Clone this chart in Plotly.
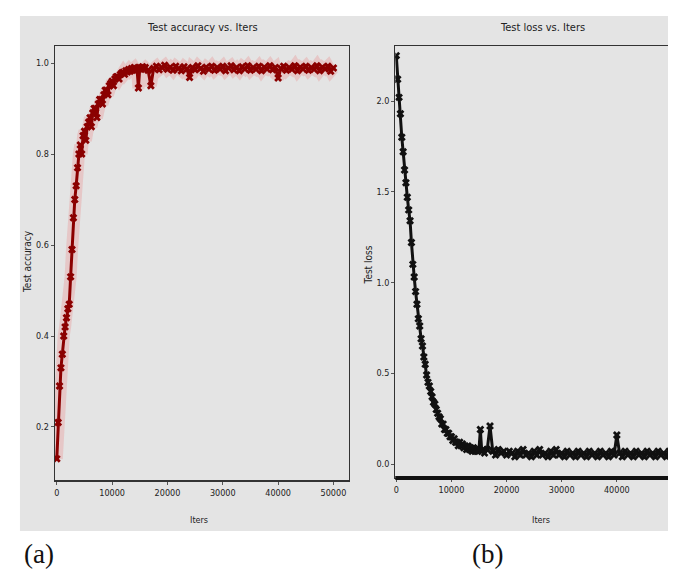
import plotly.graph_objects as go

W, H = 676, 571

# ---- data ----
ITERS_EARLY = list(range(0, 16000, 250))      # 64 points
ITERS_LATE = list(range(16000, 50001, 500))   # 69 points
ITERS = ITERS_EARLY + ITERS_LATE

ACC_EARLY = [
    0.13, 0.21, 0.29, 0.33, 0.36, 0.40, 0.42, 0.44,
    0.46, 0.47, 0.53, 0.59, 0.66, 0.70, 0.73, 0.77,
    0.80, 0.82, 0.80, 0.84, 0.85, 0.83, 0.86, 0.87,
    0.88, 0.86, 0.89, 0.90, 0.90, 0.88, 0.91, 0.92,
    0.92, 0.91, 0.93, 0.94, 0.94, 0.93, 0.95, 0.955,
    0.96, 0.95, 0.965, 0.97, 0.97, 0.965, 0.975, 0.978,
    0.98, 0.975, 0.983, 0.98, 0.986, 0.982, 0.988, 0.984,
    0.99, 0.985, 0.988, 0.945, 0.99, 0.986, 0.992, 0.987,
]
ACC_LATE = [
    0.99, 0.984, 0.95, 0.988, 0.993, 0.985, 0.99, 0.995, 0.986, 0.991,
    0.984, 0.993, 0.988, 0.983, 0.992, 0.987, 0.968, 0.99, 0.985, 0.994,
    0.988, 0.982, 0.991, 0.986, 0.993, 0.984, 0.99, 0.987, 0.993, 0.983,
    0.989, 0.994, 0.985, 0.99, 0.983, 0.992, 0.987, 0.994, 0.984, 0.99,
    0.986, 0.993, 0.983, 0.991, 0.987, 0.994, 0.985, 0.99, 0.967, 0.988,
    0.993, 0.984, 0.99, 0.986, 0.994, 0.983, 0.991, 0.987, 0.993, 0.984,
    0.99, 0.986, 0.994, 0.983, 0.991, 0.987, 0.993, 0.982, 0.989,
]
ACCURACY = ACC_EARLY + ACC_LATE

LOSS_EARLY = [
    2.25, 2.12, 2.02, 1.93, 1.80, 1.72, 1.62, 1.55,
    1.47, 1.40, 1.34, 1.22, 1.10, 1.03, 0.95, 0.88,
    0.80, 0.76, 0.69, 0.65, 0.59, 0.55, 0.49, 0.45,
    0.43, 0.40, 0.37, 0.34, 0.33, 0.30, 0.28, 0.26,
    0.25, 0.22, 0.22, 0.19, 0.19, 0.17, 0.17, 0.15,
    0.15, 0.13, 0.14, 0.12, 0.12, 0.10, 0.12, 0.10,
    0.11, 0.09, 0.10, 0.08, 0.10, 0.08, 0.09, 0.07,
    0.09, 0.07, 0.08, 0.07, 0.08, 0.19, 0.07, 0.08,
]
LOSS_LATE = [
    0.06, 0.08, 0.21, 0.07, 0.05, 0.08, 0.06, 0.07, 0.05, 0.07,
    0.06, 0.04, 0.07, 0.05, 0.08, 0.05, 0.06, 0.04, 0.07, 0.05,
    0.08, 0.05, 0.06, 0.04, 0.07, 0.05, 0.08, 0.05, 0.06, 0.04,
    0.07, 0.05, 0.06, 0.04, 0.07, 0.05, 0.06, 0.04, 0.07, 0.05,
    0.06, 0.04, 0.07, 0.05, 0.06, 0.04, 0.07, 0.05, 0.16, 0.06,
    0.04, 0.07, 0.05, 0.06, 0.04, 0.07, 0.05, 0.06, 0.04, 0.07,
    0.05, 0.06, 0.04, 0.07, 0.05, 0.06, 0.04, 0.07, 0.05,
]
LOSS = LOSS_EARLY + LOSS_LATE

X_TICKS = [0, 10000, 20000, 30000, 40000, 50000]
X_TICK_TEXT = ["0", "10000", "20000", "30000", "40000", "50000"]
ACC_TICKS = [0.2, 0.4, 0.6, 0.8, 1.0]
ACC_TICK_TEXT = ["0.2", "0.4", "0.6", "0.8", "1.0"]
LOSS_TICKS = [0.0, 0.5, 1.0, 1.5, 2.0]
LOSS_TICK_TEXT = ["0.0", "0.5", "1.0", "1.5", "2.0"]

n = min(len(ITERS), len(ACCURACY), len(LOSS))

def px(x):
    return x / W

def py(y):
    return 1 - y / H

FONT = "Liberation Sans Narrow, DejaVu Sans Condensed, Arial Narrow, sans-serif"
GRAY = "#e4e4e4"

fig = go.Figure()

# accuracy halo + line
fig.add_trace(go.Scatter(x=ITERS[:n], y=ACCURACY[:n], mode="lines",
                         line=dict(color="rgba(235,110,110,0.25)", width=12),
                         xaxis="x", yaxis="y", hoverinfo="skip", showlegend=False))
fig.add_trace(go.Scatter(x=ITERS[:n], y=ACCURACY[:n], mode="lines+markers",
                         line=dict(color="#8b0000", width=3),
                         marker=dict(symbol="x", size=7, color="#8b0000"),
                         xaxis="x", yaxis="y", showlegend=False))
# loss line
fig.add_trace(go.Scatter(x=ITERS[:n], y=LOSS[:n], mode="lines+markers",
                         line=dict(color="#111111", width=3),
                         marker=dict(symbol="x", size=7, color="#111111"),
                         xaxis="x2", yaxis="y2", showlegend=False))

axis_common = dict(showgrid=False, zeroline=False, showline=True, mirror=True,
                   linecolor="#333333", linewidth=1.3, ticks="outside", ticklen=3,
                   tickcolor="#555555", tickfont=dict(family=FONT, size=9, color="#222"))

fig.update_layout(
    width=W, height=H,
    margin=dict(l=0, r=0, t=0, b=0),
    paper_bgcolor="white",
    plot_bgcolor=GRAY,
    showlegend=False,
    xaxis=dict(domain=[px(45), px(341)], range=[-360, 52900],
               tickvals=X_TICKS, ticktext=X_TICK_TEXT, anchor="y", **axis_common),
    yaxis=dict(domain=[py(473), py(38)], range=[0.0813, 1.0374],
               tickvals=ACC_TICKS, ticktext=ACC_TICK_TEXT, anchor="x", **axis_common),
    xaxis2=dict(domain=[px(387), 1.0], range=[-180, 52000],
                tickvals=X_TICKS, ticktext=X_TICK_TEXT, anchor="y2", **axis_common),
    yaxis2=dict(domain=[py(470), py(38)], range=[-0.077, 2.303],
                tickvals=LOSS_TICKS, ticktext=LOSS_TICK_TEXT, anchor="x2", **axis_common),
)

# gray panel background
fig.add_shape(type="rect", xref="paper", yref="paper",
              x0=px(10), x1=1.0, y0=py(523), y1=py(8),
              fillcolor=GRAY, line=dict(width=0), layer="below")

# thicker bottom spines
fig.add_shape(type="line", xref="x domain", yref="y domain", x0=0, x1=1, y0=0, y1=0,
              line=dict(color="#333333", width=2))
fig.add_shape(type="line", xref="x2 domain", yref="y2 domain", x0=0, x1=1, y0=0, y1=0,
              line=dict(color="#111111", width=4))

def ann(text, x, y, size=11, angle=0, family=FONT, color="#222"):
    fig.add_annotation(text=text, xref="paper", yref="paper", x=px(x), y=py(y),
                       showarrow=False, textangle=angle, xanchor="center", yanchor="middle",
                       font=dict(family=family, size=size, color=color))

ann("Test accuracy vs. Iters", 193, 19, size=11)
ann("Test loss vs. Iters", 535, 19, size=11)
ann("Iters", 190, 512, size=9)
ann("Iters", 533, 512, size=9)
ann("Test accuracy", 18, 253, size=10, angle=-90)
ann("Test loss", 360, 257, size=10, angle=-90)
ann("(a)", 29, 546, size=27, family="Liberation Serif, DejaVu Serif, serif", color="#111")
ann("(b)", 480, 546, size=27, family="Liberation Serif, DejaVu Serif, serif", color="#111")

fig.write_html("out.html")
